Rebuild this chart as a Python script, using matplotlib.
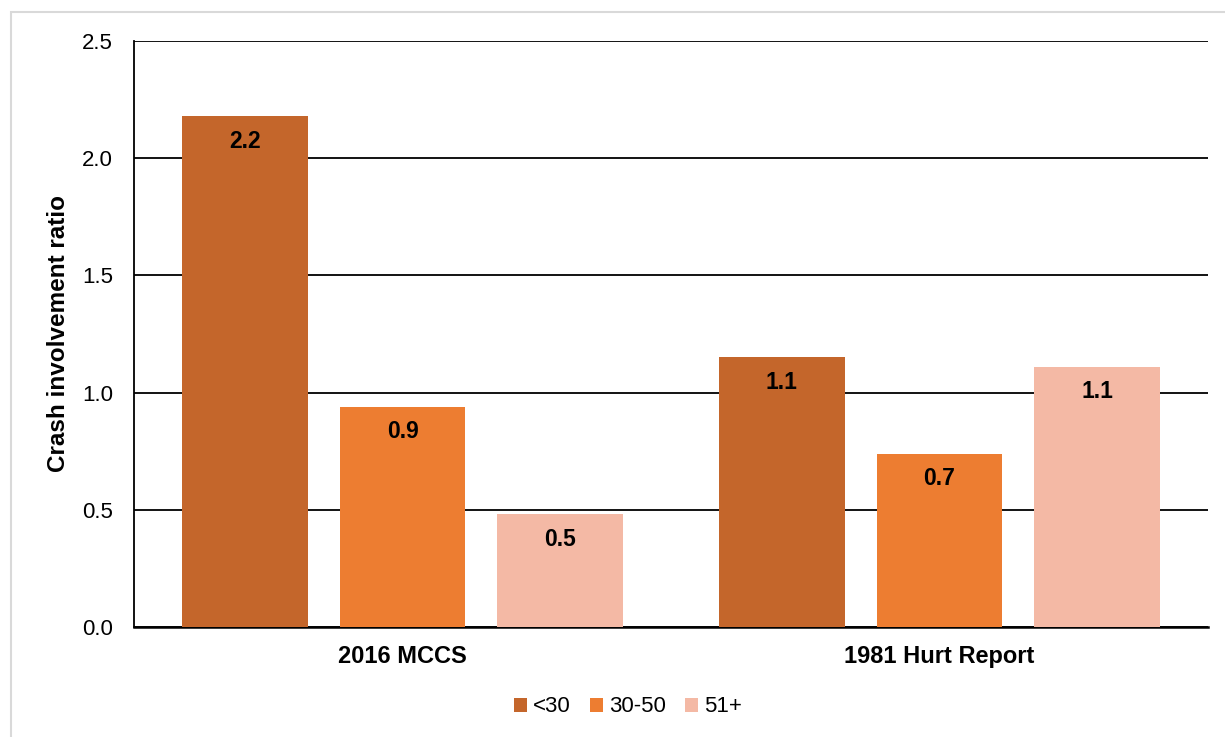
import matplotlib
matplotlib.use("Agg")
import matplotlib.pyplot as plt
import numpy as np
from matplotlib.patches import Rectangle

plt.rcParams['font.family'] = ['Liberation Sans', 'DejaVu Sans']

categories = ["2016 MCCS", "1981 Hurt Report"]
series_names = ["<30", "30-50", "51+"]
values = {
    "<30": [2.18, 1.15],
    "30-50": [0.94, 0.74],
    "51+": [0.48, 1.11],
}
labels = {
    "<30": ["2.2", "1.1"],
    "30-50": ["0.9", "0.7"],
    "51+": ["0.5", "1.1"],
}
colors = ["#C4662B", "#ED7D31", "#F4B9A5"]
yticks = [0.0, 0.5, 1.0, 1.5, 2.0, 2.5]

W, H = 1225, 737
fig = plt.figure(figsize=(W / 100, H / 100), dpi=100)
fig.patches.append(Rectangle((11 / W, -0.01), 1.02, 1 - 12 / H + 0.01,
                             transform=fig.transFigure, fill=False,
                             edgecolor="#D9D9D9", linewidth=1.5))
ax = fig.add_axes([134 / W, 1 - 627 / H, (1208 - 134) / W, (627 - 41) / H])

x = np.arange(len(categories))
width = 0.2346
step = 0.294
for i, name in enumerate(series_names):
    pos = x + (i - 1) * step
    bars = ax.bar(pos, values[name], width=width, color=colors[i], label=name, zorder=3)
    for b, lab in zip(bars, labels[name]):
        ax.text(b.get_x() + b.get_width() / 2, b.get_height() - 0.107, lab,
                ha="center", va="center", fontsize=16.5, fontweight="bold", zorder=4)

ax.set_xlim(-0.5, 1.5)
ax.set_ylim(0, 2.5)
ax.set_yticks(yticks)
ax.set_yticklabels([f"{t:.1f}" for t in yticks], fontsize=16)
ax.set_xticks(x)
ax.set_xticklabels(categories, fontsize=17, fontweight="bold")
ax.tick_params(axis="both", length=0)
ax.tick_params(axis="y", pad=15)
ax.tick_params(axis="x", pad=13)
ax.grid(axis="y", color="black", linewidth=1.3, zorder=0)
for s in ["top", "right"]:
    ax.spines[s].set_visible(False)
ax.spines["left"].set_linewidth(1.3)
ax.spines["bottom"].set_linewidth(1.8)
ax.set_ylabel("Crash involvement ratio", fontsize=17.5, fontweight="bold", va="center")
ax.yaxis.set_label_coords((59 - 134) / 1074, 0.5)

fig.legend(*ax.get_legend_handles_labels(), loc="center",
           bbox_to_anchor=(628 / W, 1 - 707 / H), ncol=3, frameon=False,
           fontsize=16, handlelength=0.6, handleheight=0.6, handletextpad=0.27,
           columnspacing=0.86)

fig.savefig("out.png", dpi=100)
